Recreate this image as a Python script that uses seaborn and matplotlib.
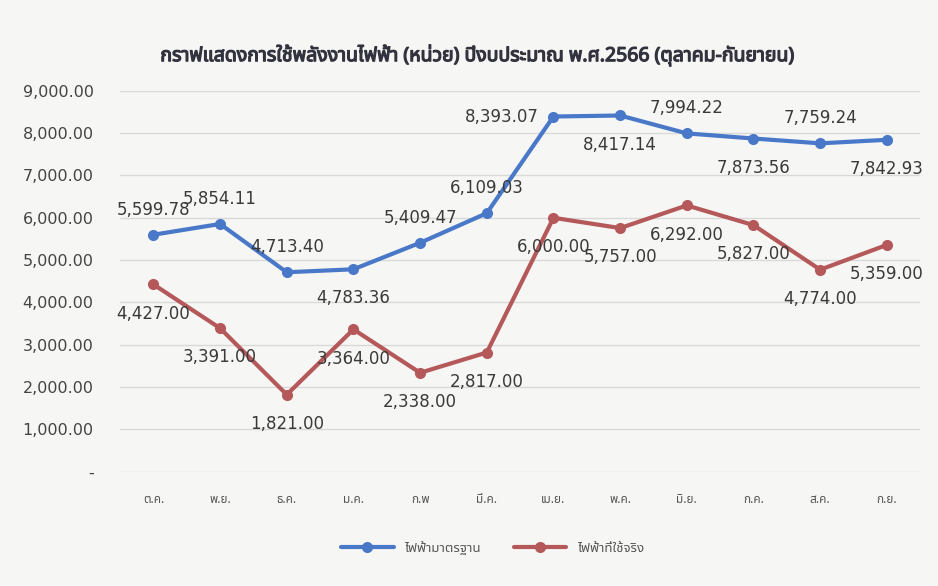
import matplotlib
matplotlib.use("Agg")
import matplotlib.pyplot as plt
import matplotlib.patheffects as pe
from matplotlib import font_manager
from matplotlib.ft2font import FT2Font
from matplotlib.ticker import FuncFormatter
import pandas as pd
import seaborn as sns

# data
months = ["ต.ค.", "พ.ย.", "ธ.ค.", "ม.ค.", "ก.พ", "มี.ค.",
          "เม.ย.", "พ.ค.", "มิ.ย.", "ก.ค.", "ส.ค.", "ก.ย."]
standard = [5599.78, 5854.11, 4713.40, 4783.36, 5409.47, 6109.03,
            8393.07, 8417.14, 7994.22, 7873.56, 7759.24, 7842.93]
actual = [4427.00, 3391.00, 1821.00, 3364.00, 2338.00, 2817.00,
          6000.00, 5757.00, 6292.00, 5827.00, 4774.00, 5359.00]
series_names = ["ไฟฟ้ามาตรฐาน", "ไฟฟ้าที่ใช้จริง"]
title = "กราฟแสดงการใช้พลังงานไฟฟ้า (หน่วย) ปีงบประมาณ พ.ศ.2566 (ตุลาคม-กันยายน)"

# label placement (a = above, b = below, l = left)
std_pos = ["a", "a", "a", "b", "a", "a", "l", "b", "a", "b", "a", "b"]
act_pos = ["b"] * 12


def find_thai_font():
    # look for any installed font that has Thai glyphs
    preferred = ["Noto Sans Thai", "Noto Sans Thai UI", "Sarabun", "Loma",
                 "Garuda", "Tlwg Typist", "Norasi", "Noto Serif Thai"]
    found = {}
    for path in font_manager.findSystemFonts():
        try:
            cmap = FT2Font(path).get_charmap()
        except Exception:
            continue
        if ord("ก") in cmap and ord("ไ") in cmap:
            try:
                name = font_manager.FontProperties(fname=path).get_name()
            except Exception:
                continue
            found[name] = path
    for p in preferred:
        if p in found:
            return p
    return next(iter(found), None)


sns.set_theme(style="white")
thai = find_thai_font()
families = ([thai] if thai else []) + ["DejaVu Sans"]
plt.rcParams["font.family"] = families

df = pd.DataFrame({
    "x": list(range(len(months))) * 2,
    "value": standard + actual,
    "series": [series_names[0]] * len(months) + [series_names[1]] * len(months),
})

blue = "#4a78c8"
red = "#b5585a"
bg = "#f6f6f4"

fig, ax = plt.subplots(figsize=(9.38, 5.86), dpi=100)
fig.patch.set_facecolor(bg)
ax.set_facecolor(bg)

sns.lineplot(data=df, x="x", y="value", hue="series", palette=[blue, red],
             marker="o", markersize=8, linewidth=3, markeredgewidth=0,
             ax=ax, sort=False, legend=True)

ax.set_ylim(0, 9000)
ax.set_xlim(-0.5, len(months) - 0.5)
ax.set_yticks(range(0, 9001, 1000))
ax.yaxis.set_major_formatter(FuncFormatter(lambda v, p: "-" if v == 0 else f"{v:,.2f}"))
ax.set_xticks(range(len(months)))
ax.set_xticklabels(months)
for lab in ax.get_yticklabels():
    lab.set_family(["DejaVu Sans"])
ax.tick_params(axis="y", labelsize=11.5, labelcolor="#444444", length=0, pad=19)
ax.tick_params(axis="x", labelsize=8.5, labelcolor="#555555", length=0, pad=15)
ax.grid(axis="y", color="#d9d9d9", linewidth=1)
for s in ax.spines.values():
    s.set_visible(False)
ax.set_xlabel("")
ax.set_ylabel("")

offsets = {"a": (0, 18), "b": (0, -21), "l": (-37, 0)}


def put_labels(vals, pos):
    for i, (v, p) in enumerate(zip(vals, pos)):
        dx, dy = offsets[p]
        ax.annotate(f"{v:,.2f}", (i, v), xytext=(dx, dy), textcoords="offset points",
                    ha="center", va="center", fontsize=12, color="#3a3a3a",
                    family=["DejaVu Sans"])


put_labels(standard, std_pos)
put_labels(actual, act_pos)

# the Thai font has no bold weight, so thicken it with a thin stroke
title_color = "#33333f"
fig.text(0.509, 0.906, title, ha="center", va="center", fontsize=14,
         fontweight="bold", color=title_color,
         path_effects=[pe.withStroke(linewidth=0.9, foreground=title_color)])

handles, labels = ax.get_legend_handles_labels()
ax.get_legend().remove()
leg = fig.legend(handles, labels, loc="center", bbox_to_anchor=(0.525, 0.065), ncol=2,
                 frameon=False, fontsize=9.5, handlelength=4, columnspacing=2.5)
for t in leg.get_texts():
    t.set_color("#555555")

fig.subplots_adjust(left=0.128, right=0.981, top=0.845, bottom=0.195)
fig.savefig("out.png", dpi=100, facecolor=bg)
